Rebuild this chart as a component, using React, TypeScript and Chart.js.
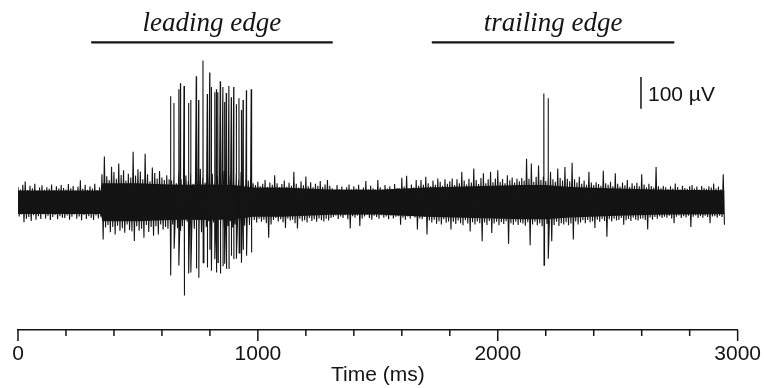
import React, { useEffect, useRef } from "react";
import { Chart, registerables } from "chart.js";

Chart.register(...registerables);

// ---- data (µV), noise envelope per 10 ms bin ----
const BIN_MS = 10;
const noiseMax = [
  48, 40, 55, 65, 38, 52, 44, 58, 37, 46,
  53, 39, 47, 42, 56, 38, 50, 43, 54, 45,
  40, 57, 44, 51, 37, 49, 69, 42, 55, 39,
  50, 43, 58, 38, 47, 88, 144, 82, 70, 112,
  95, 74, 122, 86, 101, 68, 90, 78, 159, 84,
  104, 97, 72, 153, 88, 66, 109, 92, 75, 98,
  78, 70, 85, 72, 68, 88, 60, 94, 72, 64,
  84, 66, 92, 58, 80, 70, 105, 75, 62, 86,
  70, 90, 60, 82, 68, 76, 98, 64, 84, 72,
  66, 88, 70, 95, 62, 80, 68, 84, 60, 54,
  64, 50, 58, 70, 48, 62, 55, 85, 60, 47,
  57, 68, 49, 61, 52, 96, 58, 46, 66, 53,
  81, 50, 63, 47, 58, 52, 67, 48, 56, 70,
  52, 44, 39, 54, 41, 49, 38, 47, 56, 40,
  50, 42, 55, 39, 46, 67, 41, 52, 44, 40,
  70, 47, 39, 54, 43, 50, 41, 57, 45, 44,
  77, 49, 83, 42, 56, 46, 70, 52, 70, 55,
  80, 60, 50, 68, 55, 75, 64, 52, 72, 58,
  66, 75, 54, 72, 60, 96, 68, 56, 74, 62,
  106, 70, 57, 76, 91, 60, 72, 96, 63, 75,
  101, 64, 73, 60, 85, 69, 78, 62, 74, 66,
  76, 68, 137, 74, 122, 64, 80, 116, 70, 79,
  67, 78, 96, 72, 64, 106, 76, 68, 111, 74,
  66, 124, 72, 62, 80, 58, 68, 55, 96, 62,
  54, 63, 57, 52, 99, 60, 55, 64, 50, 91,
  58, 49, 62, 53, 70, 48, 60, 52, 61, 50,
  88, 56, 47, 58, 51, 46, 111, 50, 44, 51,
  47, 41, 50, 43, 59, 48, 40, 52, 45, 42,
  50, 54, 43, 49, 40, 51, 45, 42, 50, 46,
  59, 43, 49, 41, 88,
];
const noiseMin = [
  -45, -39, -63, -52, -47, -59, -41, -55, -44, -53,
  -38, -51, -43, -56, -47, -40, -54, -44, -49, -50,
  -42, -55, -46, -39, -52, -45, -57, -40, -53, -44,
  -50, -56, -42, -51, -46, -118, -80, -72, -95, -78,
  -102, -74, -90, -82, -96, -70, -88, -92, -122, -76,
  -90, -84, -112, -72, -94, -78, -106, -76, -102, -70,
  -86, -78, -84, -74, -70, -62, -82, -66, -76, -68,
  -62, -80, -70, -84, -64, -74, -95, -66, -78, -60,
  -80, -64, -72, -62, -78, -90, -68, -76, -60, -80,
  -70, -64, -78, -58, -74, -66, -72, -60, -56, -64,
  -52, -62, -55, -66, -112, -70, -56, -50, -61, -54,
  -63, -81, -51, -58, -55, -66, -83, -52, -60, -57,
  -64, -50, -59, -54, -62, -51, -57, -61, -52, -58,
  -50, -47, -42, -53, -45, -50, -41, -54, -83, -44,
  -49, -42, -75, -51, -45, -40, -50, -55, -43, -47,
  -52, -41, -49, -45, -54, -42, -51, -46, -44, -71,
  -49, -55, -45, -52, -42, -48, -86, -51, -54, -46,
  -102, -58, -64, -55, -68, -60, -70, -54, -65, -61,
  -86, -62, -69, -58, -66, -73, -57, -67, -92, -63,
  -70, -61, -66, -123, -64, -72, -59, -97, -67, -62,
  -73, -63, -69, -60, -131, -66, -71, -62, -72, -64,
  -67, -74, -63, -136, -70, -62, -73, -66, -76, -60,
  -69, -65, -123, -72, -62, -75, -66, -70, -63, -73,
  -67, -118, -61, -70, -64, -57, -66, -56, -63, -60,
  -81, -55, -62, -53, -59, -109, -54, -61, -52, -58,
  -56, -50, -71, -57, -53, -59, -49, -55, -58, -52,
  -51, -56, -86, -48, -55, -47, -52, -45, -50, -46,
  -49, -43, -51, -66, -46, -42, -50, -44, -48, -43,
  -78, -46, -42, -50, -44, -49, -43, -47, -66, -45,
  -44, -49, -43, -47, -71,
];

// dense (solid) core of the trace (µV)
const coreTimes = [0, 345, 352, 500, 630, 700, 800, 900, 980, 1100, 1300, 1500, 1700, 1900, 2100, 2200, 2300, 2500, 2700, 2945];
const coreTop = [37, 37, 60, 60, 56, 55, 56, 54, 46, 46, 40, 39, 46, 50, 54, 54, 48, 43, 39, 38];
const coreBottom = [-37, -37, -60, -60, -56, -55, -56, -54, -46, -46, -40, -39, -46, -50, -54, -54, -48, -43, -39, -38];

// large unit spikes (time ms, peak µV, trough µV)
const spikeTimes = [
  636, 650, 670, 677, 692, 711, 720, 743, 753, 771,
  789, 799, 806, 820, 827, 833, 843, 854, 861, 868,
  879, 889, 899, 910, 921, 931, 938, 952, 972, 2192, 2210,
];
const spikePeaks = [
  334, 313, 356, 375, 366, 313, 322, 397, 322, 447,
  341, 409, 363, 347, 356, 347, 381, 363, 316, 344,
  366, 331, 363, 309, 328, 291, 322, 353, 356, 343, 328,
];
const spikeTroughs = [
  -231, -147, -200, -90, -294, -225, -222, -209, -238, -191,
  -206, -150, -216, -180, -222, -190, -225, -200, -194, -210,
  -209, -169, -180, -178, -160, -191, -150, -169, -159, -199, -178,
];

// axis
const X_MIN = 0;
const X_MAX = 3000;
const X_STEP = 200;
const xMajorTicks = [0, 1000, 2000, 3000];
const xTitle = "Time (ms)";
const Y_MIN = -403;
const Y_MAX = 637.5;

// annotations
const edgeLabels = ["leading edge", "trailing edge"];
const edgeStarts = [305, 1725];
const edgeEnds = [1312, 2736];
const EDGE_LEVEL = 504;
const scaleBarTime = 2597;
const scaleBarFrom = 295;
const scaleBarSize = 100;
const scaleBarLabel = "100 µV";

const SANS = '"Liberation Sans", Arial, sans-serif';
const INK = "#141414";

function buildTrace() {
  const pts: { x: number; y: number; k: number }[] = [];
  noiseMax.forEach((v, i) => {
    pts.push({ x: i * BIN_MS, y: v, k: 0 });
    pts.push({ x: i * BIN_MS + BIN_MS / 2, y: noiseMin[i], k: 1 });
  });
  spikeTimes.forEach((t, i) => {
    pts.push({ x: t + 0.1, y: spikePeaks[i], k: 2 });
    pts.push({ x: t + 0.9, y: spikeTroughs[i], k: 3 });
  });
  pts.sort((a, b) => a.x - b.x || a.k - b.k);
  return pts.map((p) => ({ x: p.x, y: p.y }));
}

const overlay = {
  id: "overlay",
  afterDraw(chart: any) {
    const { ctx, chartArea } = chart;
    const x = chart.scales.x;
    const y = chart.scales.y;
    ctx.save();
    ctx.strokeStyle = INK;
    ctx.fillStyle = INK;
    // ticks
    ctx.lineWidth = 1.5;
    const y0 = chartArea.bottom;
    for (const t of x.ticks) {
      const px = x.getPixelForValue(t.value);
      const len = xMajorTicks.includes(t.value) ? 11 : 6;
      ctx.beginPath();
      ctx.moveTo(px, y0);
      ctx.lineTo(px, y0 + len);
      ctx.stroke();
    }
    // edge bars + labels
    const yb = y.getPixelForValue(EDGE_LEVEL);
    edgeLabels.forEach((lab, i) => {
      const a = x.getPixelForValue(edgeStarts[i]);
      const b = x.getPixelForValue(edgeEnds[i]);
      ctx.lineWidth = 2.2;
      ctx.beginPath();
      ctx.moveTo(a, yb);
      ctx.lineTo(b, yb);
      ctx.stroke();
      ctx.font = 'italic 27px "Liberation Serif", "Times New Roman", serif';
      ctx.textAlign = "center";
      ctx.textBaseline = "alphabetic";
      ctx.fillText(lab, (a + b) / 2, yb - 11);
    });
    // scale bar
    const sx = x.getPixelForValue(scaleBarTime);
    const s1 = y.getPixelForValue(scaleBarFrom);
    const s2 = y.getPixelForValue(scaleBarFrom + scaleBarSize);
    ctx.lineWidth = 1.5;
    ctx.beginPath();
    ctx.moveTo(sx, s1);
    ctx.lineTo(sx, s2);
    ctx.stroke();
    ctx.font = "21px " + SANS;
    ctx.textAlign = "left";
    ctx.textBaseline = "alphabetic";
    ctx.fillText(scaleBarLabel, sx + 7, (s1 + s2) / 2 + 8);
    ctx.restore();
  },
};

export default function App() {
  const ref = useRef<HTMLCanvasElement>(null);
  useEffect(() => {
    if (!ref.current) return;
    const chart = new Chart(ref.current, {
      type: "line",
      data: {
        datasets: [
          {
            data: buildTrace(),
            borderColor: INK,
            borderWidth: 1.1,
            pointRadius: 0,
            tension: 0,
            fill: false,
            order: 0,
          },
          {
            data: coreTimes.map((t, i) => ({ x: t, y: coreTop[i] })),
            borderWidth: 0,
            borderColor: "rgba(0,0,0,0)",
            backgroundColor: INK,
            pointRadius: 0,
            tension: 0,
            fill: "+1",
            order: 1,
          },
          {
            data: coreTimes.map((t, i) => ({ x: t, y: coreBottom[i] })),
            borderWidth: 0,
            borderColor: "rgba(0,0,0,0)",
            pointRadius: 0,
            tension: 0,
            fill: false,
            order: 2,
          },
        ],
      },
      options: {
        animation: false,
        responsive: false,
        devicePixelRatio: 1,
        parsing: false,
        normalized: true,
        layout: { padding: { left: 18, right: 26, top: 0, bottom: 2 } },
        plugins: { legend: { display: false }, tooltip: { enabled: false }, title: { display: false } },
        scales: {
          x: {
            type: "linear",
            min: X_MIN,
            max: X_MAX,
            ticks: {
              stepSize: X_STEP,
              padding: 3,
              color: INK,
              maxRotation: 0,
              autoSkip: false,
              font: { family: SANS, size: 21, lineHeight: 1 },
              callback: (v: any) => (xMajorTicks.includes(Number(v)) ? String(v) : ""),
            },
            grid: { display: true, drawOnChartArea: false, drawTicks: true, tickLength: 11, tickColor: "rgba(0,0,0,0)" },
            border: { display: true, color: INK, width: 1.5 },
            title: {
              display: true,
              text: xTitle,
              color: INK,
              font: { family: SANS, size: 21, lineHeight: 1 },
              padding: { top: -3, bottom: 0 },
            },
          },
          y: { type: "linear", display: false, min: Y_MIN, max: Y_MAX },
        },
      },
      plugins: [overlay],
    });
    return () => chart.destroy();
  }, []);
  return (
    <div style={{ position: "fixed", left: 0, top: 0, width: 764, height: 388, background: "#fff" }}>
      <canvas ref={ref} width={764} height={388} style={{ display: "block" }} />
    </div>
  );
}
